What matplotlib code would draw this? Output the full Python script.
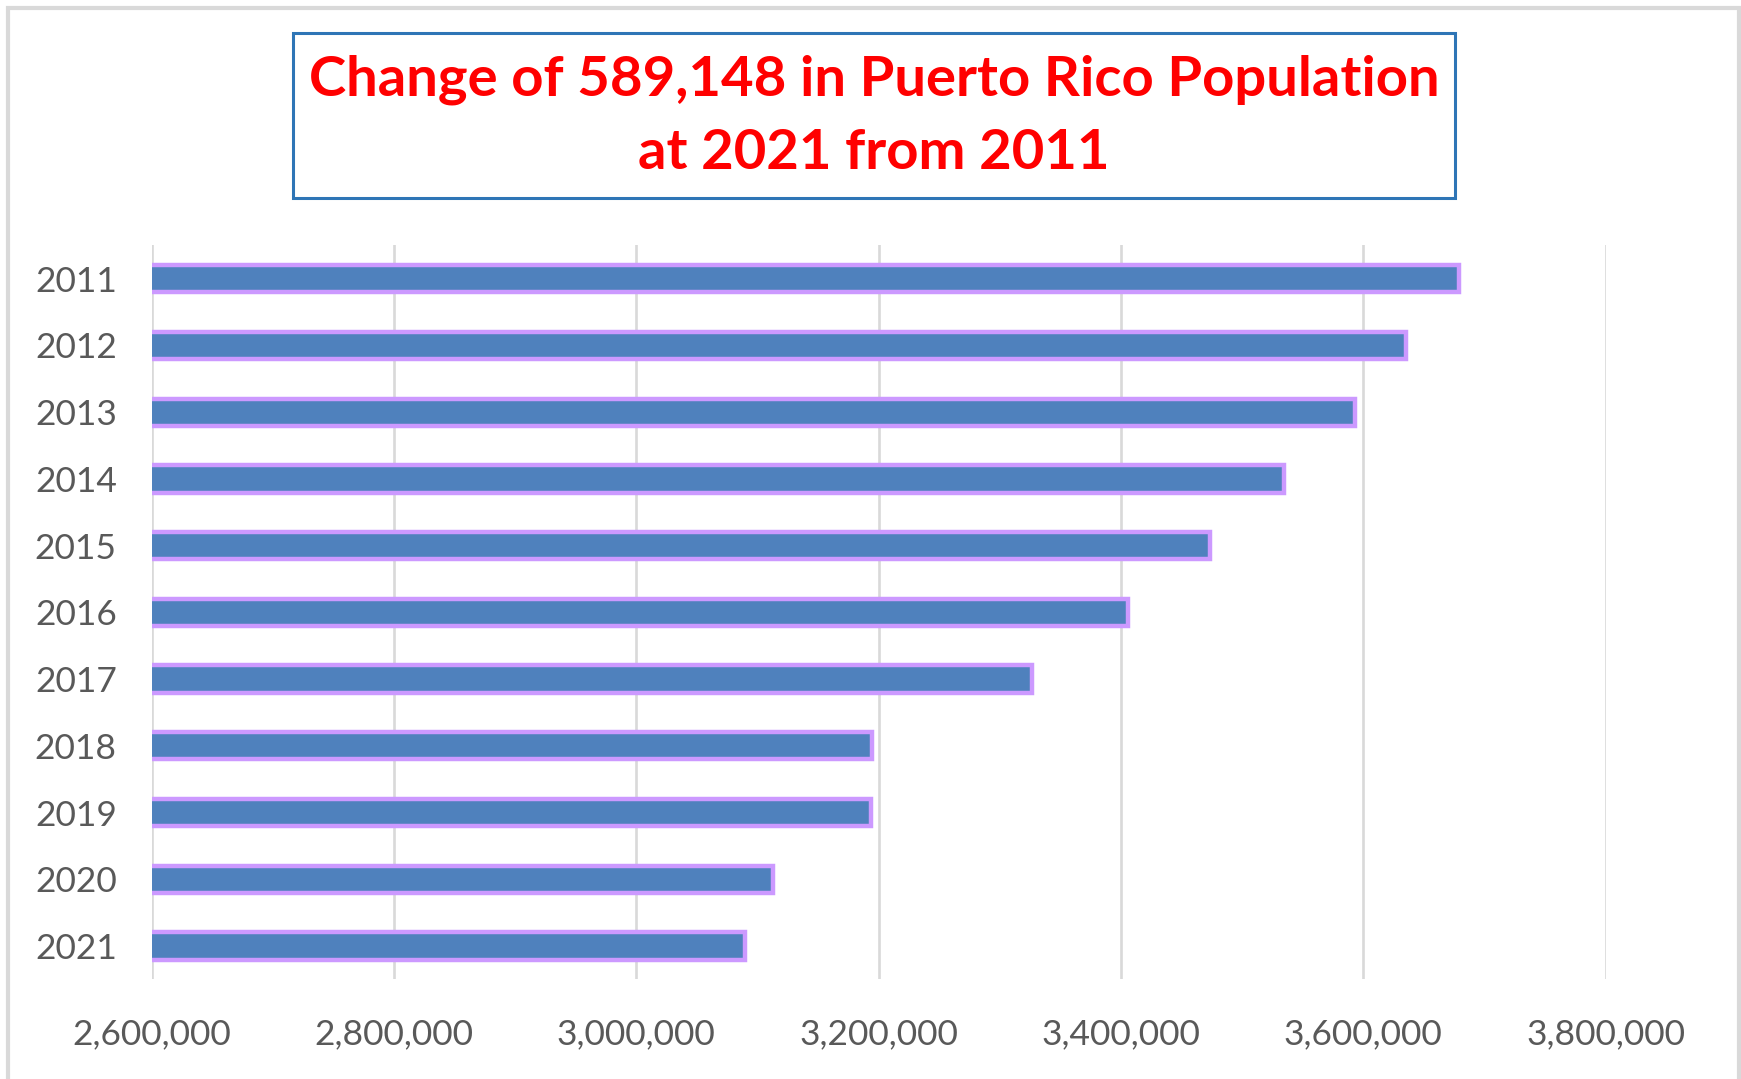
import matplotlib
matplotlib.use('agg')
import matplotlib.pyplot as plt
from matplotlib.patches import Rectangle
from matplotlib.ticker import FuncFormatter

years = ['2011', '2012', '2013', '2014', '2015', '2016',
         '2017', '2018', '2019', '2020', '2021']
population = [3678732, 3635200, 3593100, 3534400, 3473900, 3406000,
              3326300, 3194400, 3193700, 3112800, 3089584]
xticks = [2600000, 2800000, 3000000, 3200000, 3400000, 3600000, 3800000]
title_lines = ['Change of 589,148 in Puerto Rico Population', 'at 2021 from 2011']

W, H = 1741, 1079
plt.rcParams['font.family'] = ['Lato', 'DejaVu Sans']

fig = plt.figure(figsize=(W / 100, H / 100), dpi=100)
ax = fig.add_axes([151.5 / W, 1 - 979.3 / H, 1454 / W, 733.9 / H])

ypos = list(range(len(years)))
ax.barh(ypos, population, height=0.41, color='#4F81BD',
        edgecolor='#CC99FF', linewidth=3.2, zorder=3)

ax.set_xlim(2600000, 3800000)
ax.set_ylim(len(years) - 0.5, -0.5)
ax.set_xticks(xticks)
ax.xaxis.set_major_formatter(FuncFormatter(lambda v, p: f'{int(v):,}'))
ax.set_yticks(ypos)
ax.set_yticklabels(years)
ax.tick_params(axis='both', length=0, labelsize=25.5, labelcolor='#595959')
ax.tick_params(axis='y', pad=25)
ax.tick_params(axis='x', pad=28)
ax.grid(axis='x', color='#D9D9D9', linewidth=1.9)
ax.set_axisbelow(True)
for s in ax.spines.values():
    s.set_visible(False)

# title box
fig.patches.append(Rectangle((293 / W, 1 - 198 / H), 1162 / W, 165 / H,
                             transform=fig.transFigure, fill=False,
                             edgecolor='#2E75B6', linewidth=2.2))
fig.text(874 / W, 1 - 80 / H, title_lines[0], ha='center', va='center',
         color='#FF0000', fontsize=40.5, fontweight='bold')
fig.text(874 / W, 1 - 153 / H, title_lines[1], ha='center', va='center',
         color='#FF0000', fontsize=40.5, fontweight='bold')

# chart outer border
fig.patches.append(Rectangle((8 / W, -0.1), 1731 / W, 1.1 - 8 / H,
                             transform=fig.transFigure, fill=False,
                             edgecolor='#D9D9D9', linewidth=3))

fig.savefig('out.png', dpi=100)
